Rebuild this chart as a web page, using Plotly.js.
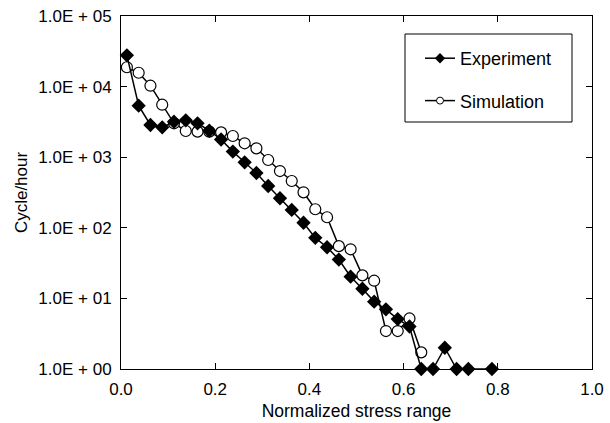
<!DOCTYPE html>
<html>
<head>
<meta charset="utf-8">
<script src="https://cdn.plot.ly/plotly-3.0.1.min.js"></script>
<style>html,body{margin:0;padding:0;background:#fff}</style>
</head>
<body>
<div id="chart" style="width:610px;height:423px"></div>
<script>
// Normalized stress range bin centres
const expX = [0.0125,0.0375,0.0625,0.0875,0.1125,0.1375,0.1625,0.1875,0.2125,0.2375,
              0.2625,0.2875,0.3125,0.3375,0.3625,0.3875,0.4125,0.4375,0.4625,0.4875,
              0.5125,0.5375,0.5625,0.5875,0.6125,0.6375,0.6625,0.6875,0.7125,0.7375,
              0.7625,0.7875];
const expY = [27700,5360,2860,2650,3180,3330,3020,2370,1780,1200,
              847,597,391,262,179,118,72,53,35.5,20.3,
              13.7,9.0,7.0,5.1,4.0,1,1,2,1,1,
              null,1];
const simX = [0.0125,0.0375,0.0625,0.0875,0.1125,0.1375,0.1625,0.1875,0.2125,0.2375,
              0.2625,0.2875,0.3125,0.3375,0.3625,0.3875,0.4125,0.4375,0.4625,0.4875,
              0.5125,0.5375,0.5625,0.5875,0.6125,0.6375];
const simY = [18800,15700,10300,5540,3020,2350,2300,2300,2250,1995,
              1573,1336,913,637,460,318,183,141,55,49.6,
              21.2,17.8,3.45,3.45,5.2,1.72];
const yTickVals = [1,10,100,1000,10000,100000];
const yTickText = ['1.0E + 00','1.0E + 01','1.0E + 02','1.0E + 03','1.0E + 04','1.0E + 05'];
const xTickVals = [0,0.2,0.4,0.6,0.8,1.0];
const xTickText = ['0.0','0.2','0.4','0.6','0.8','1.0'];

const FONT = 'Liberation Sans, Arial, sans-serif';

const simMarker = {symbol: 'circle', size: 11, color: '#fff', line: {color: '#000', width: 1.2}};
const expMarker = {symbol: 'diamond', size: 11, color: '#000', line: {color: '#000', width: 0}};

const traces = [
  {
    x: simX, y: simY, name: 'Simulation', type: 'scatter', mode: 'lines+markers',
    showlegend: false,
    line: {color: '#000', width: 1.5}, marker: simMarker, cliponaxis: false
  },
  {
    x: expX, y: expY, name: 'Experiment', type: 'scatter', mode: 'lines+markers',
    showlegend: false, connectgaps: true,
    line: {color: '#000', width: 1.5}, marker: expMarker, cliponaxis: false
  },
  // legend entries (small symbols as in the reference)
  {
    x: [null], y: [null], name: 'Experiment', type: 'scatter', mode: 'lines+markers',
    legendgroup: 'a', legendrank: 1,
    line: {color: '#000', width: 1.5},
    marker: {symbol: 'diamond', size: 8, color: '#000', line: {width: 0}}
  },
  {
    x: [null], y: [null], name: 'Simulation', type: 'scatter', mode: 'lines+markers',
    legendgroup: 'b', legendrank: 2,
    line: {color: '#000', width: 1.5},
    marker: {symbol: 'circle', size: 7, color: '#fff', line: {color: '#000', width: 1}}
  }
];

const L = 121, R = 18, T = 16, B = 54, W = 610, H = 423;
const pw = W - L - R, ph = H - T - B;
function px2x(p){return (p - L)/pw;}
function px2y(p){return (H - B - p)/ph;}

const layout = {
  width: W, height: H,
  margin: {l: L, r: R, t: T, b: B},
  paper_bgcolor: '#fff', plot_bgcolor: '#fff',
  font: {family: FONT, size: 17, color: '#000'},
  showlegend: true,
  legend: {
    x: px2x(420), y: px2y(40), xanchor: 'left', yanchor: 'top',
    bgcolor: 'rgba(0,0,0,0)', borderwidth: 0,
    font: {family: FONT, size: 18, color: '#000'},
    traceorder: 'grouped', tracegroupgap: 16
  },
  shapes: [{
    type: 'rect', xref: 'paper', yref: 'paper',
    x0: px2x(405), x1: px2x(572), y0: px2y(122), y1: px2y(34),
    line: {color: '#000', width: 1}, fillcolor: 'rgba(0,0,0,0)'
  }],
  xaxis: {
    range: [0, 1], tickvals: xTickVals, ticktext: xTickText,
    ticks: 'inside', ticklen: 6, tickwidth: 1, tickcolor: '#000',
    showline: true, linecolor: '#000', linewidth: 1, mirror: 'ticks',
    showgrid: false, zeroline: false,
    tickfont: {family: FONT, size: 17},
    ticklabelstandoff: 5,
    title: {text: 'Normalized stress range', font: {family: FONT, size: 17.5}, standoff: 6}
  },
  yaxis: {
    type: 'log', range: [0, 5], tickvals: yTickVals, ticktext: yTickText,
    ticks: 'inside', ticklen: 6, tickwidth: 1, tickcolor: '#000',
    showline: true, linecolor: '#000', linewidth: 1, mirror: 'ticks',
    showgrid: false, zeroline: false,
    tickfont: {family: FONT, size: 17},
    ticklabelstandoff: 5,
    title: {text: 'Cycle/hour', font: {family: FONT, size: 17}, standoff: 6}
  }
};

Plotly.newPlot('chart', traces, layout, {displayModeBar: false, staticPlot: true});
</script>
</body>
</html>
